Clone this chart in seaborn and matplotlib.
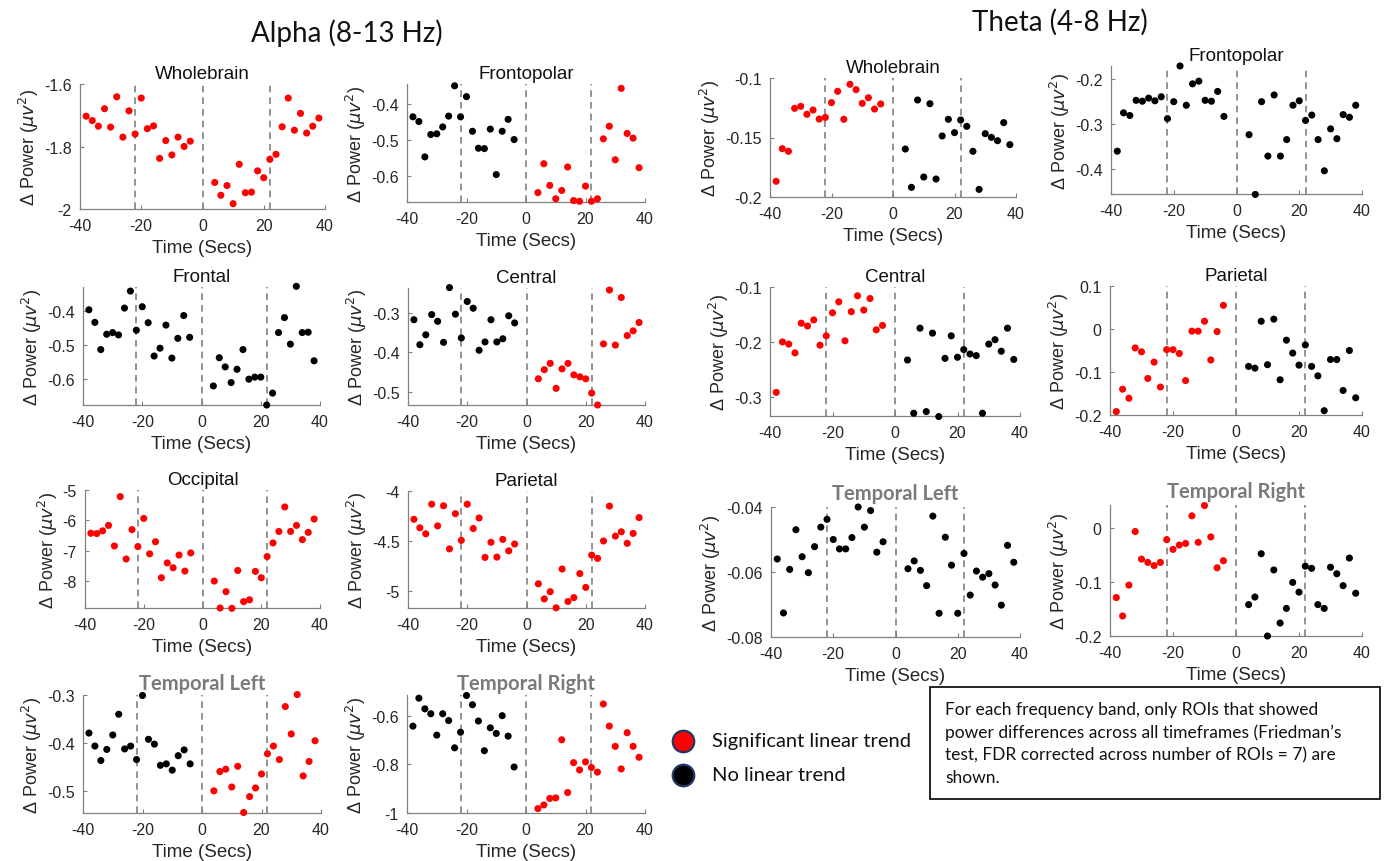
import numpy as np
import pandas as pd
import seaborn as sns
import matplotlib.pyplot as plt
from matplotlib.lines import Line2D
from matplotlib.patches import Rectangle

# Time points (seconds) before / after onset
time_pre = [-38, -36, -34, -32, -30, -28, -26, -24, -22, -20, -18, -16, -14, -12, -10, -8, -6, -4]
time_post = [4, 6, 8, 10, 12, 14, 16, 18, 20, 22, 24, 26, 28, 30, 32, 34, 36, 38]
event_lines = [-22, 0, 22]

# ---- Alpha (8-13 Hz) ----
alpha_wholebrain_pre = [-1.703, -1.717, -1.735, -1.679, -1.738, -1.641, -1.770, -1.686, -1.760,
                        -1.645, -1.743, -1.734, -1.838, -1.781, -1.827, -1.770, -1.800, -1.783]
alpha_wholebrain_post = [-1.915, -1.956, -1.925, -1.983, -1.857, -1.948, -1.946, -1.878, -1.900,
                         -1.841, -1.825, -1.737, -1.645, -1.748, -1.694, -1.757, -1.735, -1.709]
alpha_frontopolar_pre = [-0.436, -0.449, -0.547, -0.485, -0.483, -0.464, -0.434, -0.350, -0.436,
                         -0.380, -0.476, -0.523, -0.524, -0.470, -0.596, -0.476, -0.443, -0.499]
alpha_frontopolar_post = [-0.646, -0.566, -0.626, -0.663, -0.640, -0.575, -0.668, -0.670, -0.628,
                          -0.670, -0.663, -0.497, -0.462, -0.555, -0.357, -0.482, -0.495, -0.577]
alpha_frontal_pre = [-0.395, -0.432, -0.512, -0.467, -0.462, -0.469, -0.390, -0.340, -0.455,
                     -0.386, -0.433, -0.531, -0.508, -0.440, -0.537, -0.479, -0.412, -0.476]
alpha_frontal_post = [-0.619, -0.536, -0.563, -0.609, -0.570, -0.512, -0.599, -0.593, -0.593,
                      -0.675, -0.640, -0.462, -0.418, -0.496, -0.326, -0.462, -0.461, -0.545]
alpha_central_pre = [-0.318, -0.381, -0.356, -0.305, -0.322, -0.375, -0.237, -0.304, -0.364,
                     -0.272, -0.289, -0.395, -0.374, -0.318, -0.374, -0.366, -0.308, -0.326]
alpha_central_post = [-0.467, -0.444, -0.428, -0.491, -0.442, -0.428, -0.457, -0.462, -0.467,
                      -0.503, -0.533, -0.379, -0.243, -0.382, -0.262, -0.358, -0.346, -0.325]
alpha_occipital_pre = [-6.43, -6.44, -6.35, -6.17, -6.85, -5.22, -7.28, -6.31, -6.87,
                       -5.94, -7.11, -6.71, -7.90, -7.41, -7.57, -7.15, -7.68, -7.08]
alpha_occipital_post = [-8.01, -8.90, -8.36, -8.91, -7.66, -8.69, -8.63, -7.69, -7.90,
                        -7.20, -6.75, -6.37, -5.56, -6.37, -6.17, -6.64, -6.40, -5.96]
alpha_parietal_pre = [-4.283, -4.368, -4.428, -4.132, -4.349, -4.148, -4.579, -4.227, -4.493,
                      -4.132, -4.375, -4.270, -4.664, -4.513, -4.661, -4.484, -4.599, -4.530]
alpha_parietal_post = [-4.928, -5.079, -5.007, -5.168, -4.780, -5.105, -5.066, -4.826, -4.964,
                       -4.641, -4.674, -4.500, -4.151, -4.451, -4.408, -4.523, -4.424, -4.266]
alpha_templeft_pre = [-0.379, -0.406, -0.436, -0.413, -0.383, -0.340, -0.412, -0.406, -0.434,
                      -0.301, -0.392, -0.402, -0.446, -0.443, -0.456, -0.426, -0.414, -0.443]
alpha_templeft_post = [-0.499, -0.459, -0.454, -0.491, -0.448, -0.544, -0.511, -0.493, -0.464,
                       -0.422, -0.406, -0.434, -0.324, -0.381, -0.299, -0.468, -0.438, -0.395]
alpha_tempright_pre = [-0.643, -0.528, -0.572, -0.592, -0.680, -0.592, -0.620, -0.732, -0.668,
                       -0.517, -0.555, -0.622, -0.744, -0.650, -0.673, -0.600, -0.684, -0.811]
alpha_tempright_post = [-0.982, -0.967, -0.940, -0.938, -0.699, -0.916, -0.793, -0.823, -0.790,
                        -0.813, -0.832, -0.552, -0.643, -0.726, -0.819, -0.670, -0.726, -0.771]

# ---- Theta (4-8 Hz) ----
theta_wholebrain_pre = [-0.1868, -0.1594, -0.1616, -0.1255, -0.1238, -0.1305, -0.1269, -0.1345, -0.1331,
                        -0.1207, -0.1112, -0.1347, -0.1053, -0.1098, -0.1213, -0.1166, -0.1261, -0.1218]
theta_wholebrain_post = [-0.1597, -0.1919, -0.1185, -0.1832, -0.1216, -0.1849, -0.1487, -0.1347, -0.1459,
                         -0.1353, -0.1406, -0.1616, -0.1936, -0.1468, -0.1499, -0.1527, -0.1375, -0.1560]
theta_frontopolar_pre = [-0.361, -0.275, -0.281, -0.247, -0.249, -0.242, -0.248, -0.239, -0.288,
                         -0.250, -0.170, -0.258, -0.210, -0.204, -0.247, -0.249, -0.227, -0.283]
theta_frontopolar_post = [-0.324, -0.458, -0.250, -0.372, -0.235, -0.372, -0.335, -0.258, -0.248,
                          -0.292, -0.280, -0.335, -0.405, -0.311, -0.333, -0.279, -0.285, -0.258]
theta_central_pre = [-0.292, -0.200, -0.204, -0.220, -0.166, -0.171, -0.160, -0.206, -0.189,
                     -0.147, -0.127, -0.198, -0.145, -0.116, -0.142, -0.121, -0.178, -0.170]
theta_central_post = [-0.233, -0.330, -0.175, -0.327, -0.184, -0.336, -0.230, -0.189, -0.228,
                      -0.214, -0.222, -0.225, -0.330, -0.204, -0.196, -0.217, -0.175, -0.232]
theta_parietal_pre = [-0.192, -0.140, -0.161, -0.044, -0.053, -0.115, -0.077, -0.135, -0.048,
                      -0.048, -0.057, -0.120, -0.005, -0.005, 0.018, -0.072, -0.006, 0.055]
theta_parietal_post = [-0.087, -0.091, 0.018, -0.083, 0.023, -0.118, -0.026, -0.056, -0.084,
                       -0.037, -0.087, -0.109, -0.190, -0.071, -0.071, -0.143, -0.050, -0.160]
theta_templeft_pre = [-0.0560, -0.0726, -0.0592, -0.0470, -0.0553, -0.0602, -0.0522, -0.0462, -0.0438,
                      -0.0500, -0.0529, -0.0529, -0.0494, -0.0400, -0.0462, -0.0411, -0.0539, -0.0507]
theta_templeft_post = [-0.0590, -0.0566, -0.0595, -0.0642, -0.0428, -0.0727, -0.0493, -0.0579, -0.0727,
                       -0.0543, -0.0671, -0.0597, -0.0616, -0.0605, -0.0640, -0.0702, -0.0518, -0.0570]
theta_tempright_pre = [-0.129, -0.163, -0.106, -0.007, -0.058, -0.064, -0.070, -0.064, -0.022,
                       -0.040, -0.032, -0.029, 0.022, -0.027, 0.041, -0.017, -0.074, -0.061]
theta_tempright_post = [-0.142, -0.128, -0.048, -0.200, -0.078, -0.176, -0.149, -0.101, -0.119,
                        -0.071, -0.075, -0.142, -0.149, -0.073, -0.085, -0.107, -0.056, -0.121]

# Trend status of pre / post halves
SIG = "Significant linear trend"
NS = "No linear trend"
palette = {SIG: "#ff0000", NS: "#000000"}

box_text = ("For each frequency band, only ROIs that showed\n"
            "power differences across all timeframes (Friedman\u2019s\n"
            "test, FDR corrected across number of ROIs = 7) are\n"
            "shown.")

W, H = 1390, 862
CAL = ['Lato', 'DejaVu Sans']

sns.set_theme(style='ticks')
plt.rcParams['font.family'] = ['Liberation Sans', 'DejaVu Sans']
plt.rcParams['axes.unicode_minus'] = False
plt.rcParams['mathtext.fontset'] = 'dejavusans'

fig = plt.figure(figsize=(W / 100, H / 100), dpi=100)


def px_rect(l, t, r, b):
    return [l / W, 1 - b / H, (r - l) / W, (b - t) / H]


def draw_panel(box, title, pre, post, trend, ylim, yticks, temporal=False, title_pad=4):
    ax = fig.add_axes(px_rect(*box))
    df = pd.DataFrame({
        'time': time_pre + time_post,
        'power': pre + post,
        'trend': [trend[0]] * len(pre) + [trend[1]] * len(post),
    })
    sns.scatterplot(data=df, x='time', y='power', hue='trend', palette=palette,
                    s=26, linewidth=0, legend=False, ax=ax, clip_on=False, zorder=3)
    for xv in event_lines:
        ax.axvline(xv, color='#808080', lw=1.2, ls=(0, (4, 3)), zorder=1)
    ax.set_xlim(-40, 40)
    ax.set_ylim(*ylim)
    ax.set_xticks([-40, -20, 0, 20, 40])
    ax.set_xticklabels(['-40', '-20', '0', '20', '40'])
    ax.set_yticks(yticks)
    ax.set_yticklabels(['%g' % v for v in yticks])
    ax.tick_params(direction='in', length=3, width=0.8, color='#808080',
                   labelsize=11.5, labelcolor='#262626')
    ax.tick_params(axis='x', pad=6.5)
    ax.tick_params(axis='y', pad=6)
    for sp in ['top', 'right']:
        ax.spines[sp].set_visible(False)
    for sp in ['left', 'bottom']:
        ax.spines[sp].set_color('#808080')
        ax.spines[sp].set_linewidth(0.9)
    ax.set_xlabel('Time (Secs)', fontsize=13.5, color='#262626', labelpad=4)
    ax.set_ylabel('\u0394 Power ($\\mu v^2$)', fontsize=13, color='#262626', labelpad=2)
    if temporal:
        ax.set_title(title, fontsize=14.5, fontweight='bold', color='#7a7a7a',
                     family=CAL, pad=title_pad)
    else:
        ax.set_title(title, fontsize=13.5, color='#111111', pad=title_pad)
    return ax


# Alpha column
draw_panel((80, 85, 325, 210), 'Wholebrain', alpha_wholebrain_pre, alpha_wholebrain_post,
           (SIG, SIG), (-2, -1.6), [-2, -1.8, -1.6])
draw_panel((407, 85, 645, 203), 'Frontopolar', alpha_frontopolar_pre, alpha_frontopolar_post,
           (NS, SIG), (-0.672, -0.345), [-0.6, -0.5, -0.4])
draw_panel((83, 288, 320, 406), 'Frontal', alpha_frontal_pre, alpha_frontal_post,
           (NS, NS), (-0.675, -0.328), [-0.6, -0.5, -0.4])
draw_panel((408, 289, 645, 406), 'Central', alpha_central_pre, alpha_central_post,
           (NS, SIG), (-0.533, -0.238), [-0.5, -0.4, -0.3])
draw_panel((85, 491, 320, 609), 'Occipital', alpha_occipital_pre, alpha_occipital_post,
           (SIG, SIG), (-8.9, -5), [-8, -7, -6, -5])
draw_panel((408, 492, 645, 609), 'Parietal', alpha_parietal_pre, alpha_parietal_post,
           (SIG, SIG), (-5.17, -4), [-5, -4.5, -4])
draw_panel((83, 696, 321, 814), 'Temporal Left', alpha_templeft_pre, alpha_templeft_post,
           (NS, SIG), (-0.545, -0.3), [-0.5, -0.4, -0.3], temporal=True)
draw_panel((407, 696, 645, 814), 'Temporal Right', alpha_tempright_pre, alpha_tempright_post,
           (NS, SIG), (-1, -0.515), [-1, -0.8, -0.6], temporal=True)

# Theta column
draw_panel((770, 79, 1016, 198), 'Wholebrain', theta_wholebrain_pre, theta_wholebrain_post,
           (SIG, NS), (-0.2, -0.1), [-0.2, -0.15, -0.1])
draw_panel((1111, 67, 1362, 195), 'Frontopolar', theta_frontopolar_pre, theta_frontopolar_post,
           (NS, NS), (-0.457, -0.17), [-0.4, -0.3, -0.2])
draw_panel((770, 288, 1020, 417), 'Central', theta_central_pre, theta_central_post,
           (SIG, NS), (-0.335, -0.1), [-0.3, -0.2, -0.1])
draw_panel((1110, 287, 1362, 416), 'Parietal', theta_parietal_pre, theta_parietal_post,
           (SIG, NS), (-0.2, 0.1), [-0.2, -0.1, 0, 0.1])
draw_panel((771, 508, 1020, 638), 'Temporal Left', theta_templeft_pre, theta_templeft_post,
           (NS, NS), (-0.08, -0.04), [-0.08, -0.06, -0.04], temporal=True, title_pad=6)
draw_panel((1110, 506, 1362, 637), 'Temporal Right', theta_tempright_pre, theta_tempright_post,
           (SIG, NS), (-0.2, 0.042), [-0.2, -0.1, 0], temporal=True, title_pad=6)

# Band titles
fig.text(347 / W, 1 - 33 / H, 'Alpha (8-13 Hz)', ha='center', va='center',
         fontsize=20, family=CAL, color='#111111')
fig.text(1060 / W, 1 - 22 / H, 'Theta (4-8 Hz)', ha='center', va='center',
         fontsize=20, family=CAL, color='#111111')

# Legend (markers + labels)
legend_rows = [(SIG, 742), (NS, 776)]
for label, ypx in legend_rows:
    fig.add_artist(Line2D([683 / W], [1 - ypx / H], ls='', marker='o', markersize=15.5,
                          markerfacecolor=palette[label], markeredgecolor='#1f3864',
                          markeredgewidth=1.6, transform=fig.transFigure))
    fig.text(712 / W, 1 - ypx / H, label, ha='left', va='center', fontsize=14.5,
             family=CAL, color='#111111')

# Note box
fig.patches.append(Rectangle((930 / W, 1 - 800 / H), 450 / W, 112 / H, transform=fig.transFigure,
                             fill=False, edgecolor='black', linewidth=1.2))
fig.text(945 / W, 1 - 744 / H, box_text, ha='left', va='center', fontsize=12.5,
         linespacing=1.5, family=CAL, color='#111111')

fig.savefig('out.png', dpi=100)
